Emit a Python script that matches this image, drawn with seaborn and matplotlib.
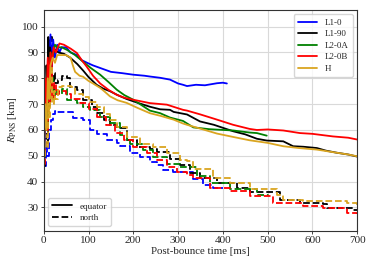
import numpy as np
import pandas as pd
import matplotlib
matplotlib.use("Agg")
import matplotlib.pyplot as plt
from matplotlib.lines import Line2D
import seaborn as sns

models = ["L1-0", "L1-90", "L2-0A", "L2-0B", "H"]
colors = ["#0000ff", "#000000", "#008000", "#ff0000", "#daa520"]

# ---- equator (solid) ----
t_L10_eq = [0, 3, 6, 9, 12, 15, 18, 21, 25, 30, 35, 40, 50, 60, 74, 85, 97, 110, 126, 150, 175, 200, 225, 237, 260, 282, 300, 311, 320, 340, 360, 387, 400, 409]
R_L10_eq = [48, 62, 80, 72, 90, 97, 85, 95, 88, 93, 90, 92, 92, 90, 89, 87, 86, 85, 84, 82.5, 82, 81.4, 81, 80.7, 80.2, 79.5, 78, 77.5, 77, 77.5, 77.3, 78.1, 78.3, 78]

t_L190_eq = [0, 2, 4, 6, 8, 10, 12, 14, 17, 20, 25, 33, 45, 59, 75, 88, 100, 118, 133, 148, 165, 185, 210, 237, 260, 282, 290, 320, 349, 380, 423, 450, 476, 498, 535, 557, 580, 610, 630, 654, 680, 700]
R_L190_eq = [46, 70, 60, 85, 75, 96, 80, 92, 88, 90, 91, 90, 89.5, 88, 85.5, 83, 80.5, 77.5, 76, 75, 73.5, 72, 70.5, 69, 68, 67.8, 67, 66, 63.3, 62, 59.5, 58.3, 56.6, 55.9, 55.6, 53.7, 53.5, 53, 52, 51.2, 50.5, 49.7]

t_L20A_eq = [0, 3, 6, 9, 12, 15, 20, 25, 30, 40, 52, 70, 88, 105, 126, 145, 163, 180, 200, 237, 260, 282, 311, 334, 370, 423, 460, 476, 498]
R_L20A_eq = [50, 75, 65, 85, 80, 90, 88, 93, 92, 92, 91, 89, 86.4, 84, 81.4, 78.5, 75.6, 73.5, 71.7, 67.5, 66.5, 64.8, 63.5, 61, 60.3, 59.8, 59, 58.8, 57.8]

t_L20B_eq = [0, 3, 6, 9, 12, 15, 18, 22, 27, 35, 45, 60, 74, 85, 96, 110, 126, 145, 163, 180, 200, 237, 275, 311, 320, 350, 387, 423, 460, 476, 500, 535, 572, 600, 646, 680, 700]
R_L20B_eq = [47, 80, 70, 88, 78, 90, 85, 92, 90, 93.5, 93, 91.5, 89.8, 87, 84.5, 81, 78, 75.5, 73.6, 72.5, 71.7, 70.4, 69.8, 67.8, 67.5, 66, 64, 62, 60.4, 60, 60.2, 59.8, 58.8, 58.5, 57.5, 57, 56.3]

t_H_eq = [0, 3, 6, 9, 12, 15, 20, 25, 30, 40, 50, 60, 65, 70, 80, 88, 100, 110, 126, 135, 148, 165, 185, 210, 237, 260, 290, 311, 320, 350, 387, 423, 460, 476, 500, 535, 570, 610, 650, 680, 700]
R_H_eq = [50, 70, 60, 80, 72, 85, 88, 86, 89, 89, 89, 88, 85, 82.5, 81, 80.6, 79, 78, 76.3, 75, 73, 71.5, 70.5, 68.5, 66.5, 65.5, 64, 62.5, 62, 60.5, 58.6, 57.3, 56, 55.6, 55, 53.7, 53, 52.4, 51.3, 50.5, 49.8]

# ---- north (dashed) ----
t_L10_no = [0, 4, 8, 12, 16, 20, 25, 30, 59, 66, 88, 103, 119, 141, 163, 171, 193, 215, 237, 253, 267, 289, 334, 356, 378, 400]
R_L10_no = [46, 55, 50, 60, 64, 66, 67.2, 67, 66.8, 64.6, 64, 60, 58.6, 56.3, 55, 53.7, 51, 49.5, 47.5, 46.6, 44.5, 43.8, 41, 38.5, 37.6, 37.6]

t_L190_no = [0, 3, 6, 9, 12, 15, 18, 22, 26, 32, 40, 52, 59, 74, 88, 107, 119, 135, 148, 163, 185, 208, 237, 253, 282, 304, 327, 349, 387, 431, 460, 527, 572, 624, 632, 690, 700]
R_L190_no = [46, 65, 55, 80, 70, 96, 75, 82, 78, 79.4, 81, 80, 76.8, 75.6, 71.7, 69, 66.7, 64, 62, 60.9, 56, 53.4, 52.8, 51.5, 48.9, 46.5, 43.4, 41.5, 39.5, 37.6, 36, 33, 31.8, 31.2, 29.9, 29.2, 29]

t_L20A_no = [0, 3, 6, 9, 12, 15, 20, 25, 30, 40, 52, 74, 88, 103, 126, 148, 171, 185, 193, 222, 245, 275, 304, 342, 371, 416, 476, 500]
R_L20A_no = [50, 70, 60, 75, 68, 80, 72, 76, 74, 76, 71.7, 70.5, 69, 67.8, 65.2, 62.8, 58, 56, 54.7, 52.1, 49.7, 47, 45.7, 42.1, 39.5, 37, 35, 34.4]

t_L20B_no = [0, 3, 6, 9, 12, 15, 18, 22, 27, 35, 50, 60, 81, 100, 120, 140, 160, 180, 200, 230, 253, 275, 297, 320, 334, 371, 416, 460, 512, 580, 624, 677, 700]
R_L20B_no = [47, 75, 60, 85, 70, 90, 72, 78, 74, 75, 74, 72, 70.4, 68, 65, 62, 59, 56, 53.4, 50.9, 48.3, 45.7, 43.8, 42.5, 41.5, 37.6, 36.3, 34.4, 31.8, 30.5, 29.9, 28, 27.5]

t_H_no = [0, 3, 6, 9, 12, 15, 18, 22, 26, 32, 40, 60, 70, 88, 100, 118, 135, 148, 163, 185, 215, 245, 275, 304, 320, 334, 378, 416, 460, 520, 535, 580, 677, 700]
R_H_no = [50, 58, 53, 70, 65, 85, 70, 75, 72, 76.7, 77, 76.5, 74, 72.8, 71, 69, 66, 64, 61, 57.3, 54.7, 53.4, 50.9, 48.3, 48, 44.7, 41.5, 39.5, 37, 35, 33, 32.4, 31.8, 30.5]

eq_t = [t_L10_eq, t_L190_eq, t_L20A_eq, t_L20B_eq, t_H_eq]
eq_R = [R_L10_eq, R_L190_eq, R_L20A_eq, R_L20B_eq, R_H_eq]
no_t = [t_L10_no, t_L190_no, t_L20A_no, t_L20B_no, t_H_no]
no_R = [R_L10_no, R_L190_no, R_L20A_no, R_L20B_no, R_H_no]

def frame(ts, Rs, direction):
    parts = []
    for m, t, r in zip(models, ts, Rs):
        parts.append(pd.DataFrame({"t": t, "R": r, "model": m, "dir": direction}))
    return pd.concat(parts, ignore_index=True)

df_eq = frame(eq_t, eq_R, "equator")
df_no = frame(no_t, no_R, "north")

sns.set_style("whitegrid", {
    "axes.edgecolor": "0.2",
    "grid.color": "0.85",
    "xtick.bottom": True,
    "ytick.left": True,
})
plt.rcParams["font.family"] = ["Liberation Serif", "DejaVu Serif"]
plt.rcParams["mathtext.fontset"] = "stix"
plt.rcParams["xtick.major.size"] = 2.5
plt.rcParams["ytick.major.size"] = 2.5
plt.rcParams["xtick.major.width"] = 0.6
plt.rcParams["ytick.major.width"] = 0.6
plt.rcParams["xtick.major.pad"] = 1.5
plt.rcParams["ytick.major.pad"] = 1.5

fig = plt.figure(figsize=(3.74, 2.67), dpi=100)
ax = fig.add_axes([0.117, 0.136, 0.838, 0.827])

pal = dict(zip(models, colors))
sns.lineplot(data=df_no, x="t", y="R", hue="model", palette=pal, estimator=None,
             sort=False, ax=ax, legend=False, lw=1.3, linestyle="--",
             drawstyle="steps-post")
sns.lineplot(data=df_eq, x="t", y="R", hue="model", palette=pal, estimator=None,
             sort=False, ax=ax, legend=False, lw=1.3)

ax.set_xlim(0, 700)
ax.set_ylim(21, 106.5)
ax.set_xticks([0, 100, 200, 300, 400, 500, 600, 700])
ax.set_yticks([30, 40, 50, 60, 70, 80, 90, 100])
ax.tick_params(labelsize=8)
for s in ax.spines.values():
    s.set_linewidth(0.8)
ax.set_xlabel("Post-bounce time [ms]", fontsize=7.8, labelpad=1)
ax.set_ylabel(r"$R_{\rm PNS}$ [km]", fontsize=7.8, labelpad=2)

h1 = [Line2D([], [], color=c, lw=1.3) for c in colors]
leg1 = ax.legend(h1, models, loc="upper right", fontsize=6.5, labelspacing=0.35,
                 handlelength=2.2, borderpad=0.45, borderaxespad=0.5, fancybox=True)
ax.add_artist(leg1)
h2 = [Line2D([], [], color="k", lw=1.3, ls="-"), Line2D([], [], color="k", lw=1.3, ls="--")]
ax.legend(h2, ["equator", "north"], loc="lower left", fontsize=6.5, labelspacing=0.35,
          handlelength=2.2, borderpad=0.45, borderaxespad=0.5, fancybox=True)

fig.savefig("out.png", dpi=100)
